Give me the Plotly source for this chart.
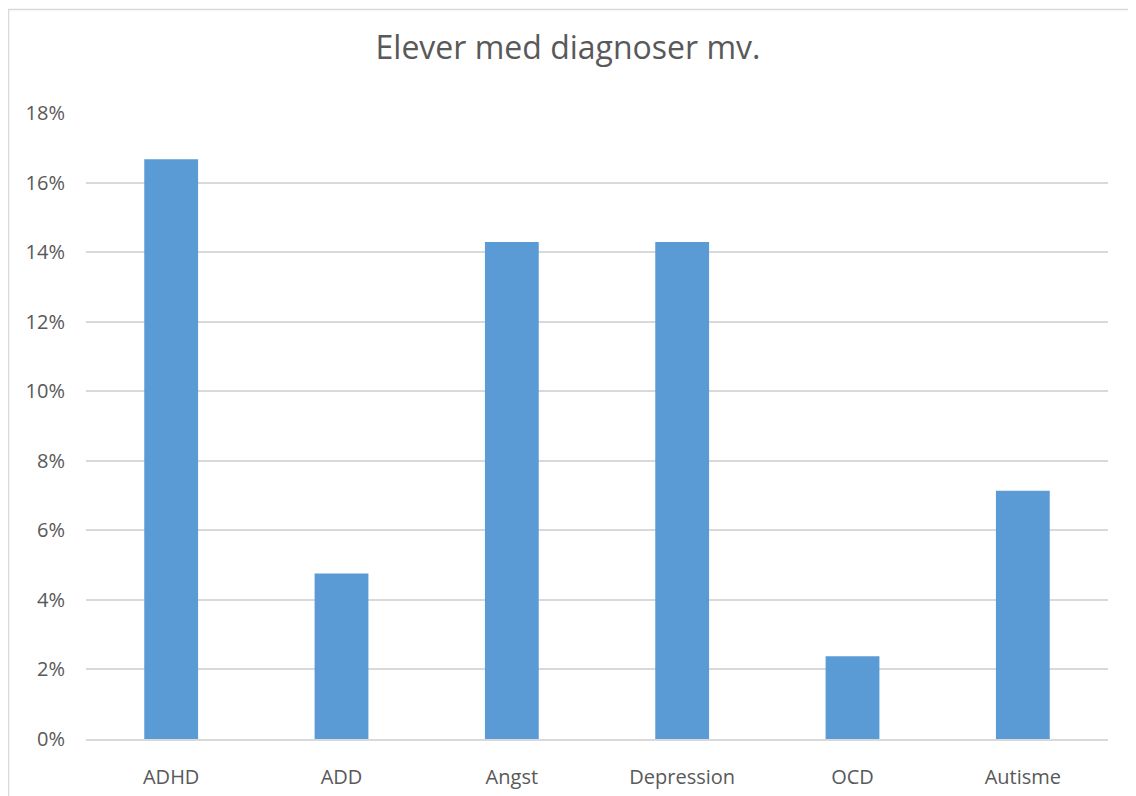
import plotly.graph_objects as go

categories = ["ADHD", "ADD", "Angst", "Depression", "OCD", "Autisme"]
values = [0.1667, 0.0476, 0.1429, 0.1429, 0.0238, 0.0714]
y_ticks = [0, 0.02, 0.04, 0.06, 0.08, 0.10, 0.12, 0.14, 0.16, 0.18]
y_tick_labels = ["0%", "2%", "4%", "6%", "8%", "10%", "12%", "14%", "16%", "18%"]

FONT = "Open Sans, Lato, sans-serif"
TXT = "#595959"
OFF = 8  # page body margin offset

L, T = 86 - OFF, 113 - OFF
R = 1136 - (1108 - OFF)
B = 796 - (739 - OFF)
PW = 1136 - L - R
PH = 796 - T - B

fig = go.Figure(go.Bar(x=categories, y=values, marker=dict(color="#5b9bd5", line=dict(width=0)),
                       width=0.316))

fig.update_layout(
    width=1136, height=796,
    margin=dict(l=L, r=R, t=T, b=B),
    paper_bgcolor="white", plot_bgcolor="white",
    title=dict(text="Elever med diagnoser mv.", x=(568 - OFF) / 1136, xanchor="center",
               xref="container",
               y=1 - (48 - OFF) / 796, yanchor="middle",
               font=dict(family=FONT, size=32, color=TXT)),
    showlegend=False,
    xaxis=dict(showgrid=False, showline=True, linecolor="#d9d9d9", linewidth=1.5,
               tickfont=dict(family=FONT, size=20, color=TXT), ticks="",
               range=[-0.5, 5.5], ticklabelstandoff=19),
    yaxis=dict(range=[0, 0.18], tickvals=y_ticks, ticktext=y_tick_labels,
               showgrid=True, gridcolor="#d9d9d9", gridwidth=1.5, zeroline=False,
               tickfont=dict(family=FONT, size=20, color=TXT), ticks="",
               ticklabelstandoff=20),
    shapes=[dict(type="rect", xref="paper", yref="paper",
                 x0=(8.5 - OFF - L) / PW, x1=(1134.5 - OFF - L) / PW,
                 y0=-0.3, y1=1 + (T - (9.5 - OFF)) / PH,
                 line=dict(color="#d9d9d9", width=1.5), fillcolor="rgba(0,0,0,0)",
                 layer="below")],
)

fig.write_html("out.html")
